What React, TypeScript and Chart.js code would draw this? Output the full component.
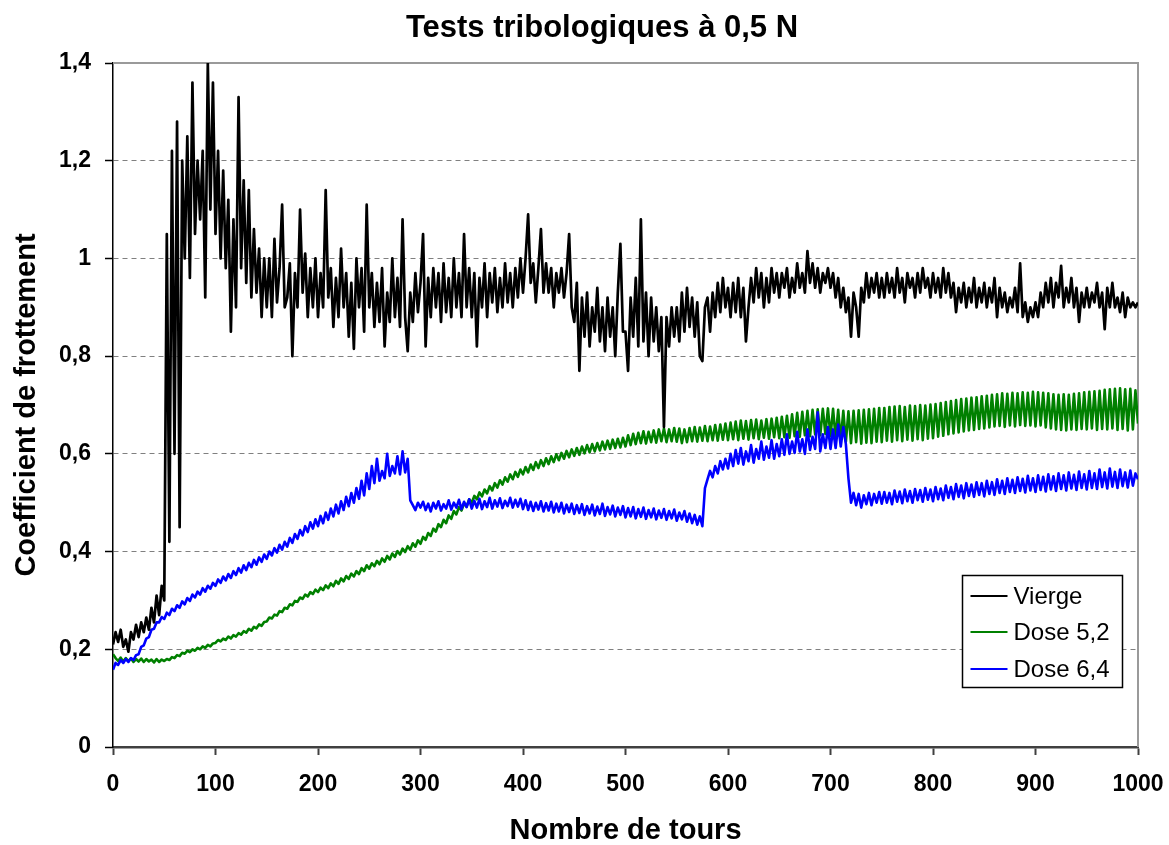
import React, { useEffect, useRef } from "react";
import { Chart, registerables } from "chart.js";

Chart.register(...registerables);

const TITLE = "Tests tribologiques à 0,5 N";
const X_TITLE = "Nombre de tours";
const Y_TITLE = "Coefficient de frottement";
const SERIES_NAMES = ["Vierge", "Dose 5,2", "Dose 6,4"];
const SERIES_COLORS = ["#000000", "#008000", "#0000ff"];
const X_TICK_LABELS = ["0", "100", "200", "300", "400", "500", "600", "700", "800", "900", "1000"];
const Y_TICK_LABELS = ["0", "0,2", "0,4", "0,6", "0,8", "1", "1,2", "1,4"];

// every series holds one value every 2.5 tours, from 0 to 1000 tours
const STEP_TOURS = 2.5;

const VIERGE = [
  0.21, 0.235, 0.215, 0.24, 0.205, 0.22, 0.195, 0.235, 0.22, 0.25, 0.225, 0.255, 0.235, 0.265, 0.24, 0.285, 0.255, 0.31, 0.27, 0.33,
  0.3, 1.05, 0.42, 1.22, 0.6, 1.28, 0.45, 1.2, 1.0, 1.25, 0.96, 1.36, 1.05, 1.2, 1.08, 1.22, 0.92, 1.4, 1.1, 1.36,
  1.05, 1.22, 1.0, 1.18, 0.98, 1.12, 0.85, 1.08, 0.9, 1.33, 0.98, 1.16, 0.95, 1.14, 0.92, 1.06, 0.93, 1.02, 0.88, 1.0,
  0.9, 1.0, 0.88, 1.04, 0.91, 0.98, 1.11, 0.9, 0.92, 0.99, 0.8, 0.97, 0.9, 1.1, 0.93, 1.01, 0.88, 0.98, 0.9, 1.0,
  0.88, 0.97, 0.9, 1.14, 0.92, 0.98, 0.86, 0.96, 0.88, 1.02, 0.9, 0.97, 0.84, 0.95, 0.815, 1.0, 0.9, 0.98, 0.85, 1.11,
  0.9, 0.97, 0.86, 0.95, 0.87, 0.98, 0.82, 0.93, 0.87, 1.0, 0.88, 0.96, 0.86, 1.08, 0.88, 0.81, 0.93, 0.87, 0.97, 0.89,
  0.95, 1.05, 0.82, 0.96, 0.88, 0.98, 0.9, 0.97, 0.87, 0.99, 0.89, 0.96, 0.88, 1.0, 0.9, 0.97, 0.88, 1.05, 0.9, 0.98,
  0.88, 0.97, 0.82, 0.96, 0.9, 0.99, 0.88, 0.97, 0.91, 0.98, 0.89, 0.96, 0.9, 0.99, 0.91, 0.97, 0.9, 0.98, 0.92, 1.0,
  0.93, 1.0, 1.09, 0.95, 0.99, 0.91, 0.98, 1.06, 0.93, 0.99, 0.93, 0.98, 0.9, 0.97, 0.93, 0.98, 0.92, 0.97, 1.05, 0.9,
  0.87, 0.95, 0.77, 0.92, 0.84, 0.93, 0.82, 0.9, 0.85, 0.94, 0.83, 0.9, 0.81, 0.92, 0.84, 0.9, 0.8, 0.93, 1.03, 0.85,
  0.85, 0.77, 0.92, 0.84, 0.96, 0.82, 1.08, 0.83, 0.93, 0.8, 0.92, 0.83, 0.9, 0.81, 0.88, 0.655, 0.88, 0.82, 0.9, 0.84,
  0.9, 0.83, 0.93, 0.85, 0.94, 0.86, 0.92, 0.84, 0.91, 0.8, 0.79, 0.9, 0.92, 0.85, 0.93, 0.88, 0.95, 0.89, 0.96, 0.9,
  0.94, 0.88, 0.95, 0.89, 0.96, 0.88, 0.94, 0.83, 0.9, 0.96, 0.91, 0.98, 0.92, 0.97, 0.9, 0.96, 0.91, 0.98, 0.93, 0.97,
  0.92, 0.97, 0.94, 0.98, 0.92, 0.96, 0.93, 0.99, 0.94, 0.97, 0.93, 1.015, 0.95, 0.99, 0.94, 0.98, 0.93, 0.97, 0.95, 0.98,
  0.94, 0.97, 0.92, 0.96, 0.9, 0.94, 0.89, 0.92, 0.84, 0.93, 0.9, 0.84, 0.94, 0.91, 0.97, 0.92, 0.96, 0.93, 0.97, 0.92,
  0.96, 0.92, 0.97, 0.93, 0.96, 0.92, 0.98, 0.93, 0.96, 0.91, 0.97, 0.94, 0.96, 0.92, 0.97, 0.93, 0.98, 0.94, 0.96, 0.92,
  0.97, 0.93, 0.96, 0.92, 0.98, 0.93, 0.97, 0.92, 0.95, 0.89, 0.94, 0.91, 0.95, 0.9, 0.94, 0.91, 0.96, 0.9, 0.94, 0.91,
  0.95, 0.9, 0.94, 0.91, 0.96, 0.88, 0.94, 0.9, 0.93, 0.89, 0.92, 0.9, 0.94, 0.89, 0.99, 0.88, 0.91, 0.87, 0.9, 0.88,
  0.91, 0.88, 0.93, 0.9, 0.95, 0.91, 0.96, 0.9, 0.95, 0.92, 0.985, 0.9, 0.94, 0.91, 0.96, 0.9, 0.94, 0.87, 0.93, 0.9,
  0.94, 0.9, 0.93, 0.91, 0.95, 0.9, 0.93, 0.855, 0.94, 0.9, 0.95, 0.9, 0.92, 0.89, 0.93, 0.88, 0.92, 0.9, 0.91, 0.9,
  0.91,
];

const DOSE_52 = [
  0.19, 0.182, 0.176, 0.183, 0.175, 0.182, 0.176, 0.181, 0.174, 0.18, 0.175, 0.181, 0.174, 0.18, 0.175, 0.179, 0.173, 0.18, 0.174, 0.179,
  0.176, 0.18, 0.178, 0.184, 0.182, 0.188, 0.186, 0.193, 0.191, 0.197, 0.194, 0.2, 0.197, 0.203, 0.2, 0.206, 0.203, 0.209, 0.206, 0.212,
  0.213, 0.219, 0.216, 0.222, 0.219, 0.226, 0.222, 0.229, 0.226, 0.233, 0.23, 0.237, 0.234, 0.242, 0.238, 0.246, 0.243, 0.251, 0.248, 0.256,
  0.257, 0.265, 0.263, 0.271, 0.269, 0.278, 0.276, 0.285, 0.283, 0.292, 0.29, 0.299, 0.297, 0.306, 0.303, 0.312, 0.308, 0.317, 0.313, 0.322,
  0.317, 0.326, 0.321, 0.331, 0.325, 0.335, 0.329, 0.34, 0.334, 0.345, 0.339, 0.35, 0.344, 0.355, 0.349, 0.36, 0.354, 0.366, 0.36, 0.372,
  0.365, 0.376, 0.37, 0.381, 0.374, 0.386, 0.379, 0.391, 0.384, 0.396, 0.389, 0.401, 0.394, 0.406, 0.399, 0.411, 0.404, 0.417, 0.41, 0.423,
  0.416, 0.43, 0.424, 0.438, 0.432, 0.447, 0.441, 0.456, 0.45, 0.465, 0.458, 0.474, 0.467, 0.483, 0.476, 0.491, 0.484, 0.499, 0.492, 0.507,
  0.5, 0.514, 0.507, 0.521, 0.513, 0.527, 0.519, 0.534, 0.525, 0.54, 0.531, 0.546, 0.537, 0.552, 0.543, 0.558, 0.548, 0.563, 0.553, 0.568,
  0.558, 0.573, 0.562, 0.578, 0.567, 0.583, 0.571, 0.587, 0.575, 0.591, 0.579, 0.595, 0.583, 0.599, 0.587, 0.602, 0.59, 0.606, 0.593, 0.609,
  0.596, 0.612, 0.598, 0.615, 0.601, 0.618, 0.603, 0.62, 0.605, 0.622, 0.607, 0.625, 0.609, 0.627, 0.61, 0.629, 0.612, 0.631, 0.613, 0.633,
  0.615, 0.638, 0.618, 0.641, 0.62, 0.643, 0.622, 0.646, 0.621, 0.645, 0.624, 0.648, 0.623, 0.65, 0.626, 0.652, 0.624, 0.65, 0.626, 0.653,
  0.625, 0.652, 0.622, 0.65, 0.624, 0.653, 0.626, 0.655, 0.625, 0.654, 0.627, 0.657, 0.626, 0.656, 0.628, 0.659, 0.627, 0.66, 0.629, 0.662,
  0.628, 0.664, 0.63, 0.666, 0.628, 0.668, 0.631, 0.667, 0.629, 0.669, 0.632, 0.67, 0.63, 0.668, 0.633, 0.671, 0.631, 0.672, 0.634, 0.674,
  0.632, 0.676, 0.634, 0.678, 0.633, 0.681, 0.636, 0.684, 0.635, 0.686, 0.638, 0.688, 0.636, 0.69, 0.64, 0.691, 0.638, 0.692, 0.641, 0.693,
  0.636, 0.692, 0.632, 0.69, 0.628, 0.688, 0.625, 0.687, 0.622, 0.688, 0.624, 0.689, 0.621, 0.69, 0.623, 0.691, 0.622, 0.692, 0.625, 0.694,
  0.624, 0.694, 0.627, 0.696, 0.625, 0.697, 0.628, 0.698, 0.626, 0.696, 0.629, 0.699, 0.627, 0.698, 0.63, 0.7, 0.628, 0.699, 0.631, 0.701,
  0.632, 0.702, 0.635, 0.704, 0.637, 0.706, 0.64, 0.708, 0.642, 0.71, 0.644, 0.712, 0.646, 0.713, 0.648, 0.715, 0.649, 0.716, 0.651, 0.718,
  0.652, 0.719, 0.654, 0.721, 0.656, 0.722, 0.657, 0.724, 0.655, 0.723, 0.658, 0.725, 0.656, 0.724, 0.659, 0.726, 0.657, 0.725, 0.658, 0.727,
  0.656, 0.726, 0.658, 0.725, 0.654, 0.724, 0.652, 0.722, 0.65, 0.721, 0.649, 0.722, 0.648, 0.721, 0.65, 0.723, 0.649, 0.724, 0.651, 0.726,
  0.65, 0.727, 0.652, 0.728, 0.649, 0.729, 0.651, 0.731, 0.65, 0.732, 0.652, 0.733, 0.649, 0.734, 0.651, 0.732, 0.648, 0.733, 0.65, 0.73,
  0.662,
];

const DOSE_64 = [
  0.158, 0.172, 0.168, 0.178, 0.172, 0.18, 0.174, 0.182, 0.178, 0.188, 0.19, 0.205, 0.208, 0.222, 0.225, 0.24, 0.242, 0.255, 0.255, 0.266,
  0.262, 0.275, 0.27, 0.283, 0.278, 0.29, 0.285, 0.298, 0.292, 0.305, 0.299, 0.312, 0.306, 0.318, 0.312, 0.325, 0.318, 0.33, 0.324, 0.336,
  0.33, 0.343, 0.336, 0.349, 0.341, 0.354, 0.346, 0.36, 0.352, 0.366, 0.357, 0.372, 0.362, 0.377, 0.368, 0.383, 0.373, 0.388, 0.379, 0.394,
  0.385, 0.4, 0.392, 0.407, 0.398, 0.414, 0.404, 0.42, 0.41, 0.428, 0.418, 0.436, 0.426, 0.444, 0.433, 0.452, 0.44, 0.46, 0.447, 0.466,
  0.452, 0.473, 0.458, 0.48, 0.465, 0.488, 0.472, 0.496, 0.478, 0.503, 0.485, 0.512, 0.493, 0.52, 0.5, 0.53, 0.508, 0.545, 0.515, 0.56,
  0.528, 0.575, 0.54, 0.59, 0.545, 0.565, 0.55, 0.6, 0.555, 0.575, 0.56, 0.595, 0.558, 0.605, 0.562, 0.59, 0.505, 0.495, 0.485, 0.5,
  0.49, 0.502, 0.485, 0.498, 0.482, 0.5, 0.488, 0.503, 0.484, 0.497, 0.488, 0.505, 0.486, 0.5, 0.49, 0.506, 0.487, 0.502, 0.491, 0.507,
  0.488, 0.504, 0.49, 0.508, 0.487, 0.503, 0.491, 0.51, 0.488, 0.505, 0.492, 0.509, 0.489, 0.504, 0.493, 0.51, 0.49, 0.506, 0.492, 0.508,
  0.487, 0.505, 0.485, 0.502, 0.483, 0.5, 0.486, 0.503, 0.482, 0.499, 0.484, 0.502, 0.48, 0.498, 0.482, 0.5, 0.478, 0.496, 0.481, 0.498,
  0.477, 0.495, 0.479, 0.497, 0.475, 0.493, 0.478, 0.496, 0.474, 0.492, 0.477, 0.498, 0.473, 0.491, 0.476, 0.494, 0.472, 0.49, 0.475, 0.493,
  0.47, 0.489, 0.472, 0.491, 0.468, 0.487, 0.471, 0.49, 0.467, 0.485, 0.47, 0.488, 0.466, 0.484, 0.469, 0.487, 0.465, 0.483, 0.468, 0.486,
  0.463, 0.48, 0.466, 0.483, 0.461, 0.478, 0.458, 0.475, 0.455, 0.472, 0.452, 0.53, 0.548, 0.565, 0.552, 0.575, 0.56, 0.585, 0.568, 0.59,
  0.57, 0.6, 0.575, 0.608, 0.58, 0.612, 0.578, 0.605, 0.585, 0.618, 0.582, 0.61, 0.59, 0.625, 0.588, 0.615, 0.592, 0.628, 0.59, 0.62,
  0.595, 0.63, 0.598, 0.64, 0.6, 0.625, 0.602, 0.645, 0.605, 0.63, 0.6, 0.65, 0.608, 0.635, 0.61, 0.685, 0.605, 0.64, 0.612, 0.655,
  0.61, 0.65, 0.612, 0.66, 0.615, 0.655, 0.62, 0.55, 0.5, 0.52, 0.495, 0.518, 0.49, 0.515, 0.497, 0.52, 0.495, 0.518, 0.5, 0.522,
  0.498, 0.522, 0.5, 0.52, 0.497, 0.525, 0.502, 0.523, 0.499, 0.527, 0.503, 0.524, 0.5, 0.528, 0.505, 0.526, 0.502, 0.53, 0.506, 0.527,
  0.503, 0.532, 0.507, 0.529, 0.505, 0.535, 0.51, 0.532, 0.507, 0.538, 0.512, 0.535, 0.509, 0.54, 0.514, 0.537, 0.512, 0.542, 0.516, 0.54,
  0.513, 0.545, 0.518, 0.542, 0.516, 0.548, 0.52, 0.545, 0.518, 0.55, 0.522, 0.547, 0.52, 0.552, 0.524, 0.549, 0.521, 0.555, 0.525, 0.55,
  0.522, 0.556, 0.526, 0.553, 0.523, 0.558, 0.527, 0.554, 0.524, 0.56, 0.528, 0.556, 0.525, 0.562, 0.529, 0.557, 0.526, 0.564, 0.53, 0.558,
  0.527, 0.565, 0.53, 0.56, 0.528, 0.568, 0.532, 0.562, 0.529, 0.57, 0.533, 0.563, 0.53, 0.568, 0.534, 0.562, 0.531, 0.566, 0.535, 0.56,
  0.548,
];

const SERIES_VALUES = [VIERGE, DOSE_52, DOSE_64];
const SERIES_WIDTHS = [2.7, 2.6, 2.6];
const DRAW_ORDER = [0, 2, 1];

const FONT = "'Liberation Sans', Arial, sans-serif";

const toPoints = (values: number[]) => values.map((y, i) => ({ x: i * STEP_TOURS, y }));

const framePlugin = {
  id: "frame",
  beforeDatasetsDraw(chart: any) {
    const { ctx, chartArea } = chart;
    ctx.save();
    ctx.strokeStyle = "#9a9a9a";
    ctx.lineWidth = 2;
    ctx.beginPath();
    ctx.moveTo(chartArea.left, chartArea.top);
    ctx.lineTo(chartArea.right, chartArea.top);
    ctx.lineTo(chartArea.right, chartArea.bottom);
    ctx.stroke();
    ctx.restore();
  },
};

const titlePlugin = {
  id: "customTitle",
  afterDraw(chart: any) {
    const { ctx } = chart;
    ctx.save();
    ctx.font = `bold 31px ${FONT}`;
    ctx.fillStyle = "#000";
    ctx.textAlign = "center";
    ctx.textBaseline = "alphabetic";
    ctx.fillText(TITLE, 602, 37);
    ctx.restore();
  },
};

const legendPlugin = {
  id: "customLegend",
  afterDraw(chart: any) {
    const { ctx, chartArea } = chart;
    const right = Math.round(chartArea.right - 16) + 0.5;
    const bottom = Math.round(chartArea.bottom - 60) + 0.5;
    const w = 160;
    const h = 112;
    const left = right - w;
    const top = bottom - h;
    ctx.save();
    ctx.fillStyle = "#fff";
    ctx.fillRect(left, top, w, h);
    ctx.strokeStyle = "#000";
    ctx.lineWidth = 1.5;
    ctx.strokeRect(left, top, w, h);
    ctx.font = `24px ${FONT}`;
    ctx.textBaseline = "middle";
    ctx.textAlign = "left";
    SERIES_NAMES.forEach((name, i) => {
      const y = Math.round(top + 20 + i * 36.5);
      ctx.strokeStyle = SERIES_COLORS[i];
      ctx.lineWidth = 2;
      ctx.beginPath();
      ctx.moveTo(left + 8, y);
      ctx.lineTo(left + 45, y);
      ctx.stroke();
      ctx.fillStyle = "#000";
      ctx.fillText(name, left + 51, y + 1);
    });
    ctx.restore();
  },
};

export default function App() {
  const canvasRef = useRef<HTMLCanvasElement | null>(null);

  useEffect(() => {
    if (!canvasRef.current) return;
    const chart = new Chart(canvasRef.current, {
      type: "line",
      data: {
        datasets: SERIES_NAMES.map((name, i) => ({
          label: name,
          data: toPoints(SERIES_VALUES[i]),
          borderColor: SERIES_COLORS[i],
          backgroundColor: SERIES_COLORS[i],
          borderWidth: SERIES_WIDTHS[i],
          borderJoinStyle: "round",
          pointRadius: 0,
          tension: 0,
          fill: false,
          order: DRAW_ORDER[i],
        })),
      },
      options: {
        animation: false,
        responsive: false,
        devicePixelRatio: 1,
        parsing: false,
        normalized: true,
        layout: { padding: { left: 0, right: 31, top: 63, bottom: 0 } },
        plugins: {
          legend: { display: false },
          title: { display: false },
          tooltip: { enabled: false },
        },
        scales: {
          x: {
            type: "linear",
            min: 0,
            max: 1000,
            afterFit: (scale: any) => {
              scale.height = 98;
              scale.paddingLeft = 0;
              scale.paddingRight = 0;
            },
            afterBuildTicks: (scale: any) => {
              scale.ticks = X_TICK_LABELS.map((_, i) => ({ value: i * 100 }));
            },
            ticks: {
              autoSkip: false,
              maxRotation: 0,
              padding: 16,
              color: "#000",
              font: { family: FONT, size: 23, weight: "bold" },
              callback: (_v: any, i: number) => X_TICK_LABELS[i],
            },
            grid: {
              drawOnChartArea: false,
              drawTicks: true,
              tickLength: 8,
              tickColor: "#404040",
              tickWidth: 2,
            },
            border: { display: true, color: "#404040", width: 2.5 },
            title: {
              display: true,
              text: X_TITLE,
              color: "#000",
              font: { family: FONT, size: 29, weight: "bold", lineHeight: 1 },
              padding: { top: 0, bottom: 0 },
            },
          },
          y: {
            type: "linear",
            min: 0,
            max: 1.4,
            afterFit: (scale: any) => {
              scale.width = 113;
            },
            afterBuildTicks: (scale: any) => {
              scale.ticks = Y_TICK_LABELS.map((_, i) => ({ value: Math.round(i * 2) / 10 }));
            },
            ticks: {
              autoSkip: false,
              padding: 14,
              color: "#000",
              font: { family: FONT, size: 23, weight: "bold" },
              callback: (_v: any, i: number) => Y_TICK_LABELS[i],
            },
            grid: {
              drawOnChartArea: true,
              drawTicks: true,
              tickLength: 8,
              tickColor: "#000",
              tickWidth: 1.5,
              lineWidth: 1,
              color: (ctx: any) =>
                ctx.tick && (ctx.tick.value === 0 || ctx.tick.value >= 1.39) ? "rgba(0,0,0,0)" : "#808080",
            },
            border: { display: true, color: "#000", width: 1.5, dash: [5, 4] },
            title: {
              display: true,
              text: Y_TITLE,
              color: "#000",
              font: { family: FONT, size: 29, weight: "bold", lineHeight: 1 },
              padding: { top: 12, bottom: 0 },
            },
          },
        },
      },
      plugins: [framePlugin, titlePlugin, legendPlugin],
    });
    return () => chart.destroy();
  }, []);

  return (
    <div style={{ position: "absolute", left: 0, top: 0, width: 1169, height: 845, background: "#fff" }}>
      <canvas ref={canvasRef} width={1169} height={845} style={{ display: "block" }} />
    </div>
  );
}
